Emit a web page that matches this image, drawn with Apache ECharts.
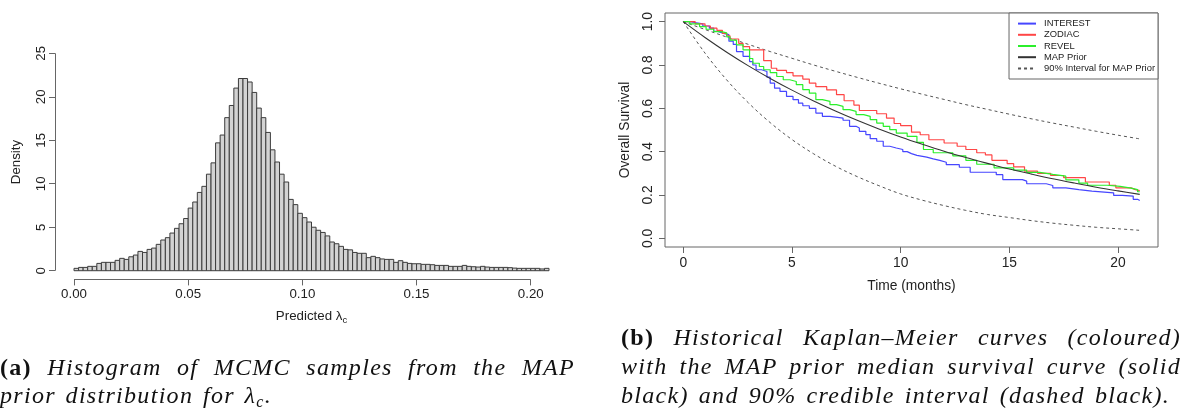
<!DOCTYPE html>
<html>
<head>
<meta charset="utf-8">
<script src="https://cdn.jsdelivr.net/npm/echarts@6/dist/echarts.min.js"></script>
<style>
  html, body { margin: 0; padding: 0; background: #fff; }
  #wrap { position: relative; width: 1183px; height: 410px; overflow: hidden; }
  #chart { position: absolute; left: 0; top: 0; width: 1183px; height: 410px; }
  .cap {
    position: absolute; display: inline-block; white-space: nowrap;
    font-family: 'Liberation Serif', 'DejaVu Serif', serif;
    font-size: 24px; line-height: 24px; color: #111;
  }
  .cap i { font-style: italic; }
  .cap b { font-weight: bold; }
  .cap sub { font-size: 16px; line-height: 0; vertical-align: -4px; }
</style>
</head>
<body>
<div id="wrap">
  <div id="chart"></div>
  <div class="cap" data-w="575" style="left:0px; top:354.9px;"><b>(a)</b> <i>Histogram of MCMC samples from the MAP</i></div>
  <div class="cap" data-w="272" style="left:0px; top:382.9px;"><i>prior distribution for λ<sub>c</sub>.</i></div>
  <div class="cap" data-w="560" style="left:621px; top:324.9px;"><b>(b)</b> <i>Historical Kaplan–Meier curves (coloured)</i></div>
  <div class="cap" data-w="560" style="left:621px; top:353.9px;"><i>with the MAP prior median survival curve (solid</i></div>
  <div class="cap" data-w="549" style="left:621px; top:382.9px;"><i>black) and 90% credible interval (dashed black).</i></div>
</div>
<script>
// ---- Histogram of MCMC draws of lambda_c (density per bin of width 0.002) ----
const binWidth = 0.002;
const density = [
  0.27, 0.38, 0.38, 0.50, 0.50, 0.84, 0.96, 0.96, 0.96, 1.19,
  1.42, 1.30, 1.60, 1.80, 2.22, 2.10, 2.45, 2.60, 3.03, 3.53,
  3.80, 4.33, 4.87, 5.40, 6.00, 7.20, 7.90, 9.00, 9.70, 11.1,
  12.4, 14.7, 15.6, 17.6, 19.0, 21.0, 22.1, 22.1, 21.7, 20.5,
  18.7, 17.6, 15.9, 13.9, 12.5, 11.1, 10.2, 8.20, 7.60, 6.60,
  6.10, 5.60, 5.00, 4.65, 4.40, 4.00, 3.30, 3.10, 2.80, 2.45,
  2.40, 2.10, 2.00, 2.00, 1.50, 1.65, 1.50, 1.35, 1.30, 1.30,
  0.96, 1.15, 0.96, 0.84, 0.80, 0.80, 0.73, 0.73, 0.69, 0.61,
  0.61, 0.61, 0.50, 0.50, 0.50, 0.61, 0.50, 0.46, 0.42, 0.50,
  0.42, 0.38, 0.38, 0.38, 0.38, 0.35, 0.30, 0.27, 0.27, 0.27,
  0.27, 0.27, 0.20, 0.27
];
const histXTicks = [0, 0.05, 0.10, 0.15, 0.20];
const histYTicks = [0, 5, 10, 15, 20, 25];
const histXLim = [-0.00832, 0.21632];
const histYLim = [-1, 26];

// ---- Kaplan–Meier curves of the historical trials (time in months) ----
const interestTime = [0, 0.3, 0.6, 0.9, 1.2, 1.4, 1.6, 1.85, 2.1, 2.3, 2.45, 2.75, 3.05, 3.2, 3.35, 3.6, 3.85, 4.0, 4.2, 4.45,
  4.75, 5.05, 5.3, 5.5, 5.8, 6.1, 6.4, 6.75, 7.35, 7.65, 7.95, 8.1, 8.4, 8.6, 8.9, 9.2, 9.5, 9.8, 10.1, 10.3,
  10.5, 10.75, 11.2, 11.5, 11.8, 12.1, 12.7, 13.2, 14.4, 14.7, 15.6, 15.8, 16.7, 17.0, 17.6, 18.2, 18.8, 19.8, 20.2, 20.7,
  20.9, 21.0];
const interestSurv = [1.0, 0.995, 0.99, 0.98, 0.97, 0.955, 0.946, 0.94, 0.91, 0.895, 0.862, 0.84, 0.816, 0.80, 0.778, 0.77, 0.744, 0.716, 0.693, 0.678,
  0.655, 0.64, 0.624, 0.612, 0.60, 0.578, 0.563, 0.555, 0.545, 0.517, 0.509, 0.494, 0.479, 0.46, 0.448, 0.425, 0.417, 0.41, 0.40, 0.391,
  0.383, 0.375, 0.367, 0.36, 0.351, 0.34, 0.328, 0.305, 0.294, 0.271, 0.264, 0.252, 0.244, 0.233, 0.225, 0.218, 0.21, 0.198, 0.195, 0.18,
  0.175, 0.175];

const zodiacTime = [0, 0.55, 1.0, 1.25, 1.55, 1.8, 2.0, 2.15, 2.55, 2.75, 3.05, 3.7, 4.05, 4.3, 4.75, 5.05, 5.5, 5.8, 6.1, 6.6,
  7.05, 7.4, 7.85, 8.1, 8.9, 9.35, 9.7, 10.0, 10.5, 10.9, 11.3, 12.0, 12.6, 13.0, 13.5, 13.9, 14.2, 14.9, 15.2, 15.7,
  16.3, 16.9, 17.5, 18.5, 19.6, 19.9, 20.6, 20.8, 21.0];
const zodiacSurv = [1.0, 0.99, 0.98, 0.97, 0.96, 0.946, 0.935, 0.92, 0.90, 0.885, 0.87, 0.82, 0.785, 0.775, 0.765, 0.75, 0.735, 0.716, 0.70, 0.685,
  0.663, 0.635, 0.615, 0.59, 0.575, 0.555, 0.53, 0.52, 0.49, 0.478, 0.455, 0.44, 0.425, 0.41, 0.395, 0.385, 0.36, 0.345, 0.33, 0.31,
  0.30, 0.29, 0.28, 0.26, 0.245, 0.233, 0.225, 0.22, 0.22];

const revelTime = [0, 0.3, 0.75, 1.05, 1.4, 1.75, 2.0, 2.15, 2.45, 2.75, 3.05, 3.2, 3.5, 3.7, 4.0, 4.3, 4.6, 4.9, 5.2, 5.5,
  5.8, 6.1, 6.4, 6.75, 7.05, 7.35, 7.65, 7.95, 8.3, 8.6, 8.9, 9.2, 9.5, 9.8, 10.3, 10.75, 11.05, 11.5, 12.4, 13.0,
  13.5, 14.3, 15.2, 15.8, 16.4, 17.0, 17.6, 18.2, 18.6, 19.5, 20.1, 20.6, 20.9, 21.0];
const revelSurv = [1.0, 0.99, 0.977, 0.965, 0.954, 0.948, 0.93, 0.915, 0.893, 0.87, 0.83, 0.808, 0.793, 0.778, 0.765, 0.747, 0.732, 0.724, 0.709, 0.686,
  0.67, 0.64, 0.632, 0.617, 0.609, 0.594, 0.586, 0.571, 0.563, 0.548, 0.532, 0.517, 0.502, 0.486, 0.471, 0.443, 0.41, 0.395, 0.381, 0.36,
  0.342, 0.325, 0.315, 0.304, 0.295, 0.287, 0.27, 0.255, 0.245, 0.24, 0.232, 0.225, 0.215, 0.215];

// ---- MAP prior: median survival and 90% credible band ----
const priorTime = [0, 1, 2, 3, 4, 5, 6, 7, 8, 9, 10, 11, 12, 13, 14, 15, 16, 17, 18, 19, 20, 21];
const priorMedian = [1.000, 0.927, 0.859, 0.796, 0.738, 0.684, 0.634, 0.588, 0.545, 0.505, 0.468,
  0.434, 0.402, 0.373, 0.346, 0.320, 0.297, 0.275, 0.255, 0.236, 0.219, 0.203];
const priorUpper = [1.000, 0.964, 0.929, 0.895, 0.862, 0.831, 0.800, 0.771, 0.743, 0.716, 0.690,
  0.665, 0.641, 0.617, 0.595, 0.573, 0.552, 0.532, 0.513, 0.494, 0.476, 0.459];
const priorLower = [1.000, 0.855, 0.731, 0.625, 0.534, 0.456, 0.390, 0.333, 0.285, 0.243, 0.205,
  0.176, 0.151, 0.129, 0.110, 0.096, 0.082, 0.070, 0.060, 0.051, 0.044, 0.037];

const kmXTicks = [0, 5, 10, 15, 20];
const kmYTicks = [0, 0.2, 0.4, 0.6, 0.8, 1.0];
const kmXLim = [-0.84, 21.84];
const kmYLim = [-0.04, 1.04];

const FONT = "'Liberation Sans', Arial, Helvetica, sans-serif";
const TXT = '#222';
const AX = '#666';

const pairs = (t, s) => t.map((v, i) => [v, s[i]]);
const histData = density.map((d, i) => [i * binWidth, (i + 1) * binWidth, d]);

const chart = echarts.init(document.getElementById('chart'), null, { renderer: 'canvas', width: 1183, height: 410 });

const option = {
  animation: false,
  backgroundColor: '#fff',
  textStyle: { fontFamily: FONT },
  grid: [
    { left: 55, top: 44.6, width: 513, height: 234.8, show: false },
    { left: 665, top: 13, width: 493, height: 234, show: true, borderColor: AX, borderWidth: 1, backgroundColor: 'transparent' }
  ],
  xAxis: [
    {
      type: 'value', gridIndex: 0, min: histXLim[0], max: histXLim[1],
      axisLine: { show: false, onZero: false },
      axisTick: { show: true, length: 6, customValues: histXTicks, lineStyle: { color: AX } },
      axisLabel: { customValues: histXTicks, formatter: v => v.toFixed(2), fontSize: 13.3, color: TXT, margin: 8, fontFamily: FONT },
      splitLine: { show: false },
      name: '{n|Predicted λ}{s|c}', nameLocation: 'middle', nameGap: 28,
      nameTextStyle: {
        rich: {
          n: { fontSize: 13.3, color: TXT, fontFamily: FONT },
          s: { fontSize: 9.5, color: TXT, fontFamily: FONT, padding: [8, 0, 0, 0] }
        }
      }
    },
    {
      type: 'value', gridIndex: 1, min: kmXLim[0], max: kmXLim[1],
      axisLine: { show: false, onZero: false },
      axisTick: { show: true, length: 6, customValues: kmXTicks, lineStyle: { color: AX } },
      axisLabel: { customValues: kmXTicks, fontSize: 13.8, color: TXT, margin: 9, fontFamily: FONT },
      splitLine: { show: false },
      name: 'Time (months)', nameLocation: 'middle', nameGap: 32,
      nameTextStyle: { fontSize: 13.8, color: TXT, fontFamily: FONT }
    }
  ],
  yAxis: [
    {
      type: 'value', gridIndex: 0, min: histYLim[0], max: histYLim[1],
      axisLine: { show: false, onZero: false },
      axisTick: { show: true, length: 6, customValues: histYTicks, lineStyle: { color: AX } },
      axisLabel: { customValues: histYTicks, rotate: 90, fontSize: 13.3, color: TXT, margin: 7, fontFamily: FONT },
      splitLine: { show: false },
      name: 'Density', nameLocation: 'middle', nameRotate: 90, nameGap: 32,
      nameTextStyle: { fontSize: 13.3, color: TXT, fontFamily: FONT }
    },
    {
      type: 'value', gridIndex: 1, min: kmYLim[0], max: kmYLim[1],
      axisLine: { show: false, onZero: false },
      axisTick: { show: true, length: 6, customValues: kmYTicks, lineStyle: { color: AX } },
      axisLabel: { customValues: kmYTicks, formatter: v => v.toFixed(1), rotate: 90, fontSize: 13.8, color: TXT, margin: 10, fontFamily: FONT },
      splitLine: { show: false },
      name: 'Overall Survival', nameLocation: 'middle', nameRotate: 90, nameGap: 33,
      nameTextStyle: { fontSize: 13.8, color: TXT, fontFamily: FONT }
    }
  ],
  legend: {
    data: ['INTEREST', 'ZODIAC', 'REVEL', 'MAP Prior', '90% Interval for MAP Prior'],
    orient: 'vertical', right: 25, top: 13,
    backgroundColor: '#fff', borderColor: AX, borderWidth: 1, borderRadius: 0,
    padding: [5, 3, 5, 8], itemGap: 0, itemWidth: 18, itemHeight: 11.2,
    selectedMode: false,
    itemStyle: { opacity: 0 },
    textStyle: { fontFamily: FONT, fontSize: 9.4, color: TXT, lineHeight: 11.2, padding: [0, 0, 0, 3] }
  },
  series: [
    {
      type: 'custom', name: 'hist', xAxisIndex: 0, yAxisIndex: 0,
      data: histData, encode: { x: [0, 1], y: 2 },
      renderItem: (params, api) => {
        const p0 = api.coord([api.value(0), 0]);
        const p1 = api.coord([api.value(1), api.value(2)]);
        return {
          type: 'rect',
          shape: { x: p0[0], y: p1[1], width: p1[0] - p0[0], height: p0[1] - p1[1] },
          style: { fill: '#d3d3d3', stroke: '#3c3c3c', lineWidth: 1 }
        };
      }
    },
    {
      type: 'line', name: '90% Interval for MAP Prior', xAxisIndex: 1, yAxisIndex: 1,
      data: pairs(priorTime, priorUpper), smooth: 0.35, symbol: 'none',
      lineStyle: { color: '#555', width: 1, type: [3, 3] }, itemStyle: { color: '#555' }
    },
    {
      type: 'line', name: '90% Interval for MAP Prior', xAxisIndex: 1, yAxisIndex: 1,
      data: pairs(priorTime, priorLower), smooth: 0.35, symbol: 'none',
      lineStyle: { color: '#555', width: 1, type: [3, 3] }, itemStyle: { color: '#555' }
    },
    {
      type: 'line', name: 'INTEREST', xAxisIndex: 1, yAxisIndex: 1,
      data: pairs(interestTime, interestSurv), step: 'end', symbol: 'none',
      lineStyle: { color: '#4646ff', width: 1.2 }, itemStyle: { color: '#4646ff' }
    },
    {
      type: 'line', name: 'ZODIAC', xAxisIndex: 1, yAxisIndex: 1,
      data: pairs(zodiacTime, zodiacSurv), step: 'end', symbol: 'none',
      lineStyle: { color: '#ff4646', width: 1.2 }, itemStyle: { color: '#ff4646' }
    },
    {
      type: 'line', name: 'REVEL', xAxisIndex: 1, yAxisIndex: 1,
      data: pairs(revelTime, revelSurv), step: 'end', symbol: 'none',
      lineStyle: { color: '#2bef2b', width: 1.2 }, itemStyle: { color: '#2bef2b' }
    },
    {
      type: 'line', name: 'MAP Prior', xAxisIndex: 1, yAxisIndex: 1,
      data: pairs(priorTime, priorMedian), smooth: 0.35, symbol: 'none',
      lineStyle: { color: '#333', width: 1.1 }, itemStyle: { color: '#333' }
    }
  ]
};

chart.setOption(option);

// R-style axis lines of the histogram: they run only between the first and last tick.
const px = (x, y) => chart.convertToPixel({ xAxisIndex: 0, yAxisIndex: 0 }, [x, y]);
const xa0 = px(histXTicks[0], histYLim[0]);
const xa1 = px(histXTicks[histXTicks.length - 1], histYLim[0]);
const ya0 = px(histXLim[0], histYTicks[0]);
const ya1 = px(histXLim[0], histYTicks[histYTicks.length - 1]);
const crisp = v => Math.round(v) + 0.5;
chart.setOption({
  graphic: [
    { type: 'line', silent: true, shape: { x1: xa0[0], y1: crisp(xa0[1]), x2: xa1[0], y2: crisp(xa1[1]) }, style: { stroke: AX, lineWidth: 1 } },
    { type: 'line', silent: true, shape: { x1: crisp(ya0[0]), y1: ya0[1], x2: crisp(ya1[0]), y2: ya1[1] }, style: { stroke: AX, lineWidth: 1 } }
  ]
});

// Captions: spread each line to its set width, as typeset text would be.
function fitCaptions() {
  document.querySelectorAll('.cap').forEach(el => {
    el.style.letterSpacing = '0px';
    el.style.wordSpacing = '0px';
    const natural = el.getBoundingClientRect().width;
    const n = el.textContent.length;
    const spaces = (el.textContent.match(/ /g) || []).length;
    const target = +el.dataset.w;
    const ls = Math.max(-0.5, Math.min(1.3, (target - natural) / n));
    el.style.letterSpacing = ls.toFixed(3) + 'px';
    const w2 = el.getBoundingClientRect().width;
    if (spaces) el.style.wordSpacing = ((target - w2) / spaces).toFixed(3) + 'px';
  });
}
fitCaptions();
if (document.fonts && document.fonts.ready) document.fonts.ready.then(fitCaptions);
</script>
</body>
</html>
